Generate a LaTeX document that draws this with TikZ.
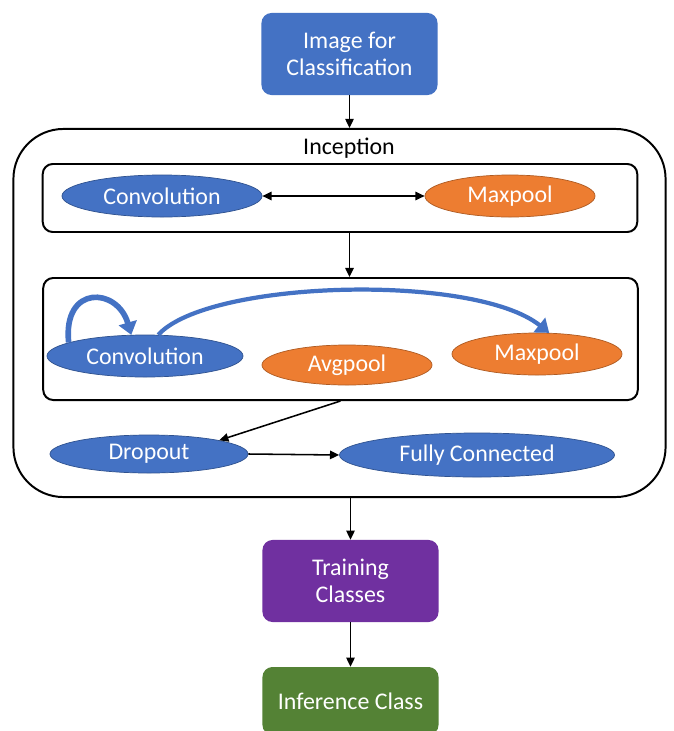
\documentclass[tikz,border=0pt]{standalone}
\usepackage{fontspec}
\setmainfont{Carlito}
\usepackage{tikz}
\usetikzlibrary{arrows, arrows.meta}
\usetikzlibrary{positioning, shapes.geometric}
\usepackage{xcolor}
\definecolor{msblue}{HTML}{4472C4}
\definecolor{msblueline}{HTML}{2F528F}
\definecolor{msorange}{HTML}{ED7D31}
\definecolor{msorangeline}{HTML}{AE5A21}
\definecolor{mspurple}{HTML}{7030A0}
\definecolor{msgreen}{HTML}{548235}

\begin{document}
\begin{tikzpicture}[x=0.025cm,y=-0.025cm,
  every node/.style={font=\fontsize{17}{19.3}\selectfont, inner sep=0pt},
  >={Triangle[length=6.5pt,width=6pt]},
  stagebox/.style={rectangle, rounded corners=0.25cm, minimum width=4.4cm,
    minimum height=2.05cm, text=white, align=center},
  groupbox/.style={draw, line width=1.4pt, rounded corners=0.25cm, minimum width=14.86cm},
  layer/.style={ellipse, draw=msblueline, fill=msblue, text=white, line width=0.5pt,
    minimum height=1.05cm},
  pool/.style={layer, draw=msorangeline, fill=msorange},
  flow/.style={line width=1.1pt, ->},
  jump/.style={draw=msblue, line width=3pt, -{Triangle[length=9pt,width=13pt]}}
]
\useasboundingbox[fill=white] (0,0) rectangle (673,731);

\node[stagebox, fill=msblue] (image) at (349.5,54) {Image for\\Classification};

\node[draw, line width=1.4pt, rounded corners=1.25cm, minimum width=16.3cm,
  minimum height=9.2cm] (inception) at (339.5,313) {};
\node (inclabel) at (349,148) {Inception};

\node[groupbox, minimum height=1.7cm] (stageone) at (340,198) {};
\node[layer, minimum width=5cm] (conv1) at (162,196) {Convolution};
\node[pool, minimum width=4.25cm] (max1) at (510,196) {Maxpool};

\node[groupbox, minimum height=3.05cm] (stagetwo) at (340.5,339) {};
\node[layer, minimum width=4.9cm] (conv2) at (145,356) {Convolution};
\node[pool, minimum width=4.25cm, minimum height=1cm] (avg2) at (347,365) {Avgpool};
\node[pool, minimum width=4.25cm] (max2) at (537,354) {Maxpool};

\node[layer, minimum width=4.95cm, minimum height=0.95cm] (dropout) at (149,454) {Dropout};
\node[layer, minimum width=6.875cm, minimum height=1.1cm] (fullconn) at (477,455) {Fully Connected};

\node[stagebox, fill=mspurple] (train) at (350.5,581) {Training\\Classes};
\node[stagebox, fill=msgreen, minimum height=1.7cm] (infer) at (350.5,701) {Inference Class};

\draw[flow] (image.south) -- (image.south |- inception.north);
\draw[flow, <->] (conv1.east) -- (max1.west);
\draw[flow] (image.south |- stageone.south) -- (image.south |- stagetwo.north);
\draw[jump, line width=4pt] (conv2.170) .. controls +(-6,-58) and +(-14,-48) .. (conv2.123);
\draw[jump] (conv2.58) .. controls +(50,-55) and +(-75,-60) .. (max2.60);
\draw[flow] (stagetwo.south) -- (dropout.north east);
\draw[flow] (dropout.east) -- (fullconn.west);
\draw[flow] (train.north |- inception.south) -- (train.north);
\draw[flow] (train.south) -- (infer.north);
\end{tikzpicture}
\end{document}
